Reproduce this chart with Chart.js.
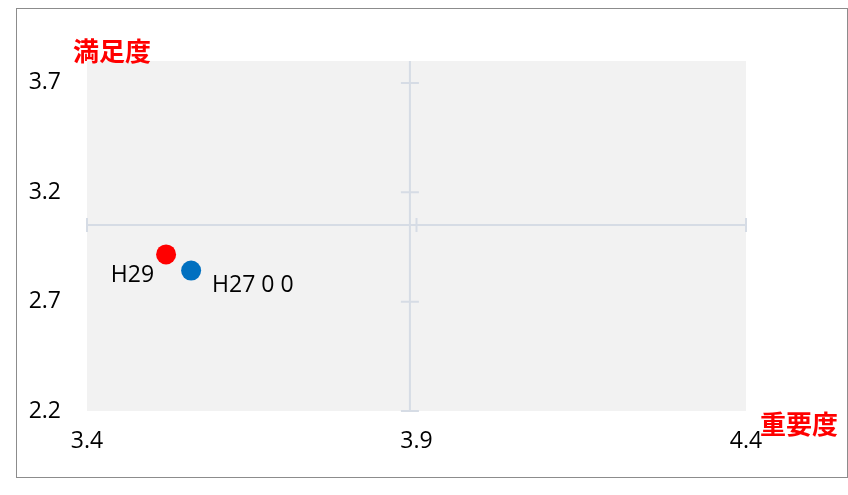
<!DOCTYPE html>
<html>
<head>
<meta charset="utf-8">
<script src="https://cdn.jsdelivr.net/npm/chart.js@4.4.1/dist/chart.umd.min.js"></script>
<style>
  body { margin: 0; background: #fff; }
  #box {
    position: absolute; left: 16px; top: 8px;
    width: 830px; height: 468px;
    border: 1px solid #8c8c8c;
  }
  canvas { display: block; }
</style>
</head>
<body>
<div id="box"><canvas id="chart" width="830" height="468"></canvas></div>
<script>
// data
const pointLabels = ["H29", "H27 0 0"];
const importance = [3.52, 3.558];   // x: 重要度
const satisfaction = [2.916, 2.842]; // y: 満足度
const pointColors = ["#ff0000", "#0070c0"];

const xTicks = [3.4, 3.9, 4.4];
const yTicks = [2.2, 2.7, 3.2, 3.7];
const xRange = [3.4, 4.4];
const yRange = [2.2, 3.8];
// where the two axes cross
const crossX = 3.89;
const crossY = 3.05;

const xTitle = "重要度";
const yTitle = "満足度";

const tickFont = { family: "'Open Sans', sans-serif", size: 23 };
const axisColor = "#d6dce5";

const plotBg = {
  id: "plotBg",
  beforeDraw(chart) {
    const { ctx, chartArea: a } = chart;
    ctx.save();
    ctx.fillStyle = "#f2f2f2";
    ctx.fillRect(a.left, a.top, a.right - a.left, a.bottom - a.top);
    ctx.restore();
  }
};

// cross axes through the middle, with tick marks
const crossAxes = {
  id: "crossAxes",
  beforeDatasetsDraw(chart) {
    const { ctx, chartArea: a, scales: { x, y } } = chart;
    const px = x.getPixelForValue(crossX);
    const py = y.getPixelForValue(crossY);
    ctx.save();
    ctx.strokeStyle = axisColor;
    ctx.lineWidth = 2;
    ctx.beginPath();
    ctx.moveTo(a.left, py); ctx.lineTo(a.right, py);
    ctx.moveTo(px, a.top); ctx.lineTo(px, a.bottom);
    yTicks.forEach(v => {
      const ty = y.getPixelForValue(v);
      ctx.moveTo(px - 9, ty); ctx.lineTo(px + 9, ty);
    });
    xTicks.forEach(v => {
      const tx = x.getPixelForValue(v);
      ctx.moveTo(tx, py - 7); ctx.lineTo(tx, py + 7);
    });
    ctx.stroke();
    ctx.restore();
  }
};

const labelsAndTitles = {
  id: "labelsAndTitles",
  afterDatasetsDraw(chart) {
    const { ctx, chartArea: a } = chart;
    const meta = chart.getDatasetMeta(0);
    ctx.save();
    ctx.fillStyle = "#000";
    ctx.font = "23px 'Open Sans', sans-serif";
    ctx.textBaseline = "middle";
    meta.data.forEach((pt, i) => {
      if (i === 0) {
        ctx.textAlign = "right";
        ctx.fillText(pointLabels[i], pt.x - 12, pt.y + 21);
      } else {
        ctx.textAlign = "left";
        ctx.fillText(pointLabels[i], pt.x + 21, pt.y + 15);
      }
    });
    ctx.fillStyle = "#ff0000";
    ctx.font = "bold 26px 'Noto Sans CJK JP', sans-serif";
    ctx.textAlign = "left";
    ctx.fillText(yTitle, a.left - 14, a.top - 10);
    ctx.fillText(xTitle, a.right + 14, a.bottom + 13);
    ctx.restore();
  }
};

new Chart(document.getElementById("chart"), {
  type: "scatter",
  data: {
    datasets: [{
      data: importance.map((v, i) => ({ x: v, y: satisfaction[i] })),
      backgroundColor: pointColors,
      borderWidth: 0,
      pointRadius: 10,
      pointHoverRadius: 10
    }]
  },
  options: {
    responsive: false,
    devicePixelRatio: 1,
    animation: false,
    layout: { padding: { top: 52, right: 101, bottom: 0, left: 0 } },
    plugins: { legend: { display: false }, tooltip: { enabled: false } },
    scales: {
      x: {
        min: xRange[0], max: xRange[1],
        afterBuildTicks: s => { s.ticks = xTicks.map(v => ({ value: v })); },
        afterFit: s => { s.height = 66; },
        grid: { display: false, drawTicks: false },
        border: { display: false },
        ticks: { font: tickFont, color: "#000", padding: 17, maxRotation: 0,
          callback: v => v.toFixed(1) }
      },
      y: {
        min: yRange[0], max: yRange[1],
        afterBuildTicks: s => { s.ticks = yTicks.map(v => ({ value: v })); },
        afterFit: s => { s.width = 70; },
        grid: { display: false, drawTicks: false },
        border: { display: false },
        ticks: { font: tickFont, color: "#000", padding: 26,
          callback: v => v.toFixed(1) }
      }
    }
  },
  plugins: [plotBg, crossAxes, labelsAndTitles]
});
</script>
</body>
</html>
